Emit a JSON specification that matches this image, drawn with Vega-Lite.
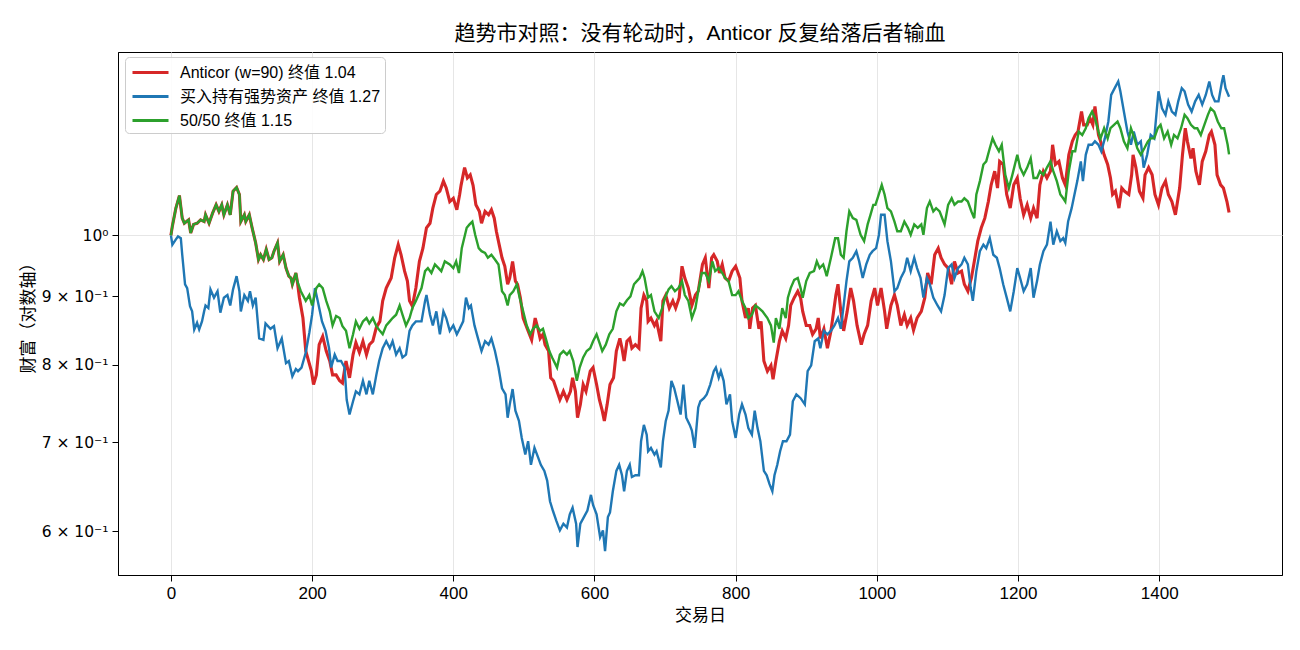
{
"$schema": "https://vega.github.io/schema/vega-lite/v6.json",
"width": 1164, "height": 523,
"autosize": {"type": "none"},
"padding": {"left": 118, "top": 52, "right": 18, "bottom": 75},
"title": {"text": "趋势市对照：没有轮动时，Anticor 反复给落后者输血", "fontSize": 21, "fontWeight": "normal", "color": "#000000", "offset": 8},
"datasets": {
"a": [{"d":0,"v":1.000},{"d":2,"v":1.016},{"d":7,"v":1.048},{"d":12,"v":1.071},{"d":16,"v":1.030},{"d":19,"v":1.021},{"d":25,"v":1.027},{"d":28,"v":1.004},{"d":32,"v":1.019},{"d":37,"v":1.021},{"d":42,"v":1.027},{"d":47,"v":1.024},{"d":49,"v":1.036},{"d":54,"v":1.021},{"d":59,"v":1.039},{"d":64,"v":1.054},{"d":68,"v":1.042},{"d":72,"v":1.054},{"d":75,"v":1.036},{"d":80,"v":1.054},{"d":84,"v":1.036},{"d":88,"v":1.079},{"d":93,"v":1.086},{"d":97,"v":1.073},{"d":99,"v":1.024},{"d":104,"v":1.036},{"d":106,"v":1.024},{"d":111,"v":1.036},{"d":115,"v":1.013},{"d":120,"v":0.987},{"d":124,"v":0.959},{"d":127,"v":0.967},{"d":131,"v":0.959},{"d":135,"v":0.976},{"d":139,"v":0.959},{"d":143,"v":0.962},{"d":146,"v":0.973},{"d":151,"v":0.987},{"d":154,"v":0.956},{"d":159,"v":0.967},{"d":163,"v":0.945},{"d":167,"v":0.932},{"d":170,"v":0.929},{"d":172,"v":0.919},{"d":177,"v":0.937},{"d":179,"v":0.924},
{"d":182,"v":0.898},{"d":187,"v":0.867},{"d":191,"v":0.819},{"d":199,"v":0.791},{"d":202,"v":0.773},{"d":206,"v":0.786},{"d":210,"v":0.828},{"d":215,"v":0.840},{"d":220,"v":0.819},{"d":225,"v":0.805},{"d":229,"v":0.786},{"d":234,"v":0.786},{"d":239,"v":0.778},{"d":243,"v":0.775},{"d":248,"v":0.805},{"d":253,"v":0.782},{"d":258,"v":0.814},{"d":262,"v":0.831},{"d":267,"v":0.817},{"d":272,"v":0.833},{"d":277,"v":0.814},{"d":281,"v":0.828},{"d":286,"v":0.833},{"d":291,"v":0.853},{"d":296,"v":0.862},{"d":300,"v":0.893},{"d":305,"v":0.913},{"d":312,"v":0.929},{"d":317,"v":0.962},{"d":322,"v":0.984},{"d":326,"v":0.967},{"d":331,"v":0.940},{"d":335,"v":0.924},{"d":338,"v":0.893},{"d":342,"v":0.885},{"d":347,"v":0.913},{"d":352,"v":0.956},{"d":357,"v":0.978},{"d":362,"v":1.013},{"d":367,"v":1.021},{"d":371,"v":1.048},{"d":376,"v":1.073},{"d":381,"v":1.079},{"d":386,"v":1.098},{"d":390,"v":1.085},{"d":395,"v":1.060},{"d":400,"v":1.066},{"d":405,"v":1.045},{"d":409,"v":1.073},{"d":411,"v":1.090},{"d":416,"v":1.124},{"d":420,"v":1.104},{"d":424,"v":1.110},{"d":428,"v":1.090},{"d":432,"v":1.054},{"d":437,"v":1.042},{"d":440,"v":1.021},{"d":445,"v":1.042},{"d":450,"v":1.036},{"d":454,"v":1.045},{"d":458,"v":1.030},{"d":461,"v":1.007},{"d":465,"v":0.984},{"d":469,"v":0.962},{"d":473,"v":0.948},{"d":477,"v":0.919},{"d":480,"v":0.929},{"d":484,"v":0.956},{"d":488,"v":0.924},{"d":491,"v":0.919},{"d":495,"v":0.898},{"d":499,"v":0.867},{"d":503,"v":0.856},{"d":506,"v":0.848},{"d":511,"v":0.835},{"d":516,"v":0.867},{"d":520,"v":0.851},{"d":523,"v":0.837},{"d":527,"v":0.843},{"d":530,"v":0.828},{"d":535,"v":0.819},{"d":538,"v":0.782},{"d":542,"v":0.778},{"d":547,"v":0.764},{"d":551,"v":0.753},{"d":556,"v":0.764},{"d":561,"v":0.753},{"d":566,"v":0.764},{"d":569,"v":0.782},{"d":573,"v":0.764},{"d":576,"v":0.730},{"d":580,"v":0.747},{"d":584,"v":0.773},{"d":588,"v":0.764},{"d":594,"v":0.791},{"d":598,"v":0.796},{"d":603,"v":0.773},{"d":607,"v":0.753},{"d":611,"v":0.739},{"d":614,"v":0.726},{"d":618,"v":0.747},{"d":622,"v":0.773},{"d":627,"v":0.782},{"d":631,"v":0.819},{"d":636,"v":0.837},{"d":639,"v":0.823},{"d":642,"v":0.805},{"d":646,"v":0.833},{"d":650,"v":0.837},{"d":653,"v":0.823},{"d":658,"v":0.828},{"d":663,"v":0.823},{"d":666,"v":0.882},{"d":670,"v":0.902},{"d":674,"v":0.893},{"d":676,"v":0.862},{"d":680,"v":0.867},{"d":685,"v":0.856},{"d":688,"v":0.862},{"d":694,"v":0.833},{"d":697,"v":0.893},{"d":701,"v":0.902},{"d":706,"v":0.882},{"d":711,"v":0.893},{"d":715,"v":0.882},{"d":720,"v":0.898},{"d":724,"v":0.948},{"d":728,"v":0.929},{"d":733,"v":0.913},{"d":738,"v":0.886},{"d":743,"v":0.902},{"d":747,"v":0.908},{"d":753,"v":0.951},{"d":757,"v":0.962},{"d":762,"v":0.913},{"d":766,"v":0.962},{"d":769,"v":0.967},{"d":774,"v":0.956},{"d":777,"v":0.937},{"d":781,"v":0.951},{"d":785,"v":0.929},{"d":790,"v":0.924},{"d":795,"v":0.940},{"d":800,"v":0.948},{"d":806,"v":0.929},{"d":809,"v":0.893},{"d":814,"v":0.867},{"d":818,"v":0.882},{"d":820,"v":0.851},{"d":824,"v":0.882},{"d":828,"v":0.886},{"d":833,"v":0.851},{"d":836,"v":0.862},{"d":840,"v":0.805},{"d":845,"v":0.791},{"d":850,"v":0.799},{"d":853,"v":0.780},{"d":857,"v":0.805},{"d":862,"v":0.833},{"d":866,"v":0.848},{"d":871,"v":0.837},{"d":875,"v":0.856},{"d":878,"v":0.886},{"d":883,"v":0.898},{"d":888,"v":0.908},{"d":892,"v":0.898},{"d":895,"v":0.877},{"d":900,"v":0.856},{"d":905,"v":0.856},{"d":909,"v":0.843},{"d":914,"v":0.851},{"d":917,"v":0.867},{"d":920,"v":0.837},{"d":925,"v":0.851},{"d":930,"v":0.823},{"d":935,"v":0.848},{"d":942,"v":0.902},{"d":945,"v":0.919},{"d":949,"v":0.877},{"d":953,"v":0.848},{"d":958,"v":0.877},{"d":963,"v":0.913},{"d":967,"v":0.893},{"d":972,"v":0.856},{"d":978,"v":0.828},{"d":982,"v":0.843},{"d":987,"v":0.856},{"d":992,"v":0.893},{"d":997,"v":0.913},{"d":1001,"v":0.886},{"d":1006,"v":0.913},{"d":1011,"v":0.877},{"d":1014,"v":0.851},{"d":1020,"v":0.886},{"d":1025,"v":0.902},{"d":1029,"v":0.886},{"d":1034,"v":0.856},{"d":1039,"v":0.872},{"d":1043,"v":0.856},{"d":1048,"v":0.867},{"d":1052,"v":0.849},{"d":1057,"v":0.867},{"d":1063,"v":0.877},{"d":1068,"v":0.898},{"d":1072,"v":0.937},{"d":1077,"v":0.919},{"d":1082,"v":0.967},{"d":1087,"v":0.978},{"d":1091,"v":0.962},{"d":1096,"v":0.951},{"d":1101,"v":0.945},{"d":1106,"v":0.919},{"d":1110,"v":0.956},{"d":1115,"v":0.937},{"d":1120,"v":0.940},{"d":1124,"v":0.919},{"d":1129,"v":0.908},{"d":1134,"v":0.929},{"d":1139,"v":0.962},{"d":1143,"v":0.990},{"d":1148,"v":1.013},{"d":1153,"v":1.030},{"d":1158,"v":1.060},{"d":1162,"v":1.091},{"d":1167,"v":1.117},{"d":1171,"v":1.085},{"d":1174,"v":1.136},{"d":1179,"v":1.130},{"d":1184,"v":1.073},{"d":1189,"v":1.048},{"d":1194,"v":1.091},{"d":1199,"v":1.104},{"d":1203,"v":1.066},{"d":1208,"v":1.036},{"d":1213,"v":1.054},{"d":1218,"v":1.030},{"d":1222,"v":1.048},{"d":1227,"v":1.030},{"d":1231,"v":1.091},{"d":1236,"v":1.117},{"d":1241,"v":1.104},{"d":1246,"v":1.117},{"d":1249,"v":1.169},{"d":1253,"v":1.130},{"d":1258,"v":1.136},{"d":1263,"v":1.104},{"d":1267,"v":1.091},{"d":1272,"v":1.149},{"d":1277,"v":1.176},{"d":1281,"v":1.189},{"d":1285,"v":1.196},{"d":1290,"v":1.238},{"d":1293,"v":1.210},{"d":1298,"v":1.210},{"d":1302,"v":1.224},{"d":1306,"v":1.210},{"d":1309,"v":1.249},{"d":1314,"v":1.189},{"d":1317,"v":1.176},{"d":1322,"v":1.149},{"d":1327,"v":1.130},{"d":1331,"v":1.104},{"d":1334,"v":1.073},{"d":1338,"v":1.079},{"d":1343,"v":1.048},{"d":1347,"v":1.085},{"d":1351,"v":1.079},{"d":1357,"v":1.073},{"d":1361,"v":1.110},{"d":1363,"v":1.149},{"d":1367,"v":1.124},{"d":1372,"v":1.079},{"d":1377,"v":1.066},{"d":1380,"v":1.110},{"d":1385,"v":1.124},{"d":1390,"v":1.110},{"d":1394,"v":1.073},{"d":1399,"v":1.054},{"d":1404,"v":1.085},{"d":1409,"v":1.098},{"d":1413,"v":1.073},{"d":1418,"v":1.060},{"d":1423,"v":1.036},{"d":1429,"v":1.085},{"d":1433,"v":1.149},{"d":1437,"v":1.203},{"d":1440,"v":1.176},{"d":1445,"v":1.142},{"d":1448,"v":1.162},{"d":1452,"v":1.117},{"d":1457,"v":1.091},{"d":1461,"v":1.136},{"d":1466,"v":1.156},{"d":1471,"v":1.189},{"d":1474,"v":1.196},{"d":1479,"v":1.169},{"d":1482,"v":1.110},{"d":1487,"v":1.091},{"d":1491,"v":1.085},{"d":1496,"v":1.060},{"d":1499,"v":1.040}],
"b": [{"d":0,"v":1.000},{"d":2,"v":0.984},{"d":7,"v":0.993},{"d":10,"v":0.998},{"d":14,"v":0.995},{"d":16,"v":0.967},{"d":20,"v":0.919},{"d":23,"v":0.913},{"d":27,"v":0.885},{"d":30,"v":0.877},{"d":33,"v":0.850},{"d":37,"v":0.860},{"d":40,"v":0.850},{"d":44,"v":0.862},{"d":47,"v":0.877},{"d":49,"v":0.886},{"d":53,"v":0.882},{"d":56,"v":0.911},{"d":61,"v":0.898},{"d":66,"v":0.908},{"d":70,"v":0.875},{"d":75,"v":0.898},{"d":80,"v":0.902},{"d":84,"v":0.886},{"d":88,"v":0.911},{"d":93,"v":0.932},{"d":97,"v":0.908},{"d":99,"v":0.877},{"d":104,"v":0.902},{"d":109,"v":0.893},{"d":112,"v":0.908},{"d":116,"v":0.886},{"d":120,"v":0.898},{"d":125,"v":0.837},{"d":131,"v":0.835},{"d":134,"v":0.859},{"d":141,"v":0.851},{"d":146,"v":0.855},{"d":151,"v":0.823},{"d":157,"v":0.837},{"d":163,"v":0.802},{"d":167,"v":0.805},{"d":172,"v":0.784},{"d":177,"v":0.794},{"d":180,"v":0.791},{"d":185,"v":0.796},{"d":191,"v":0.817},{"d":196,"v":0.845},{"d":200,"v":0.872},{"d":204,"v":0.913},{"d":208,"v":0.893},{"d":214,"v":0.862},{"d":219,"v":0.848},{"d":224,"v":0.823},{"d":227,"v":0.796},{"d":232,"v":0.814},{"d":236,"v":0.805},{"d":241,"v":0.805},{"d":246,"v":0.796},{"d":249,"v":0.753},{"d":253,"v":0.734},{"d":258,"v":0.751},{"d":262,"v":0.764},{"d":267,"v":0.760},{"d":272,"v":0.778},{"d":277,"v":0.760},{"d":281,"v":0.778},{"d":286,"v":0.760},{"d":291,"v":0.786},{"d":295,"v":0.805},{"d":300,"v":0.823},{"d":305,"v":0.833},{"d":310,"v":0.823},{"d":314,"v":0.833},{"d":319,"v":0.814},{"d":324,"v":0.823},{"d":328,"v":0.810},{"d":333,"v":0.814},{"d":338,"v":0.848},{"d":342,"v":0.856},{"d":347,"v":0.862},{"d":355,"v":0.862},{"d":360,"v":0.893},{"d":362,"v":0.902},{"d":367,"v":0.872},{"d":371,"v":0.856},{"d":376,"v":0.877},{"d":381,"v":0.843},{"d":386,"v":0.877},{"d":390,"v":0.867},{"d":395,"v":0.848},{"d":400,"v":0.856},{"d":405,"v":0.843},{"d":409,"v":0.851},{"d":414,"v":0.862},{"d":418,"v":0.898},{"d":422,"v":0.882},{"d":425,"v":0.886},{"d":430,"v":0.856},{"d":435,"v":0.837},{"d":440,"v":0.819},{"d":445,"v":0.833},{"d":450,"v":0.828},{"d":454,"v":0.837},{"d":459,"v":0.819},{"d":464,"v":0.796},{"d":469,"v":0.768},{"d":474,"v":0.760},{"d":477,"v":0.730},{"d":480,"v":0.747},{"d":484,"v":0.767},{"d":488,"v":0.739},{"d":493,"v":0.726},{"d":497,"v":0.705},{"d":502,"v":0.685},{"d":506,"v":0.701},{"d":510,"v":0.673},{"d":515,"v":0.693},{"d":520,"v":0.682},{"d":524,"v":0.673},{"d":529,"v":0.666},{"d":533,"v":0.655},{"d":537,"v":0.632},{"d":541,"v":0.622},{"d":546,"v":0.611},{"d":551,"v":0.601},{"d":556,"v":0.608},{"d":561,"v":0.604},{"d":565,"v":0.618},{"d":569,"v":0.625},{"d":574,"v":0.608},{"d":576,"v":0.584},{"d":580,"v":0.608},{"d":585,"v":0.615},{"d":590,"v":0.622},{"d":595,"v":0.639},{"d":598,"v":0.628},{"d":603,"v":0.618},{"d":608,"v":0.594},{"d":612,"v":0.601},{"d":615,"v":0.580},{"d":619,"v":0.615},{"d":622,"v":0.620},{"d":626,"v":0.643},{"d":631,"v":0.666},{"d":635,"v":0.673},{"d":639,"v":0.661},{"d":642,"v":0.643},{"d":646,"v":0.666},{"d":650,"v":0.673},{"d":653,"v":0.659},{"d":658,"v":0.661},{"d":663,"v":0.661},{"d":666,"v":0.701},{"d":670,"v":0.721},{"d":674,"v":0.709},{"d":676,"v":0.689},{"d":680,"v":0.693},{"d":685,"v":0.685},{"d":688,"v":0.689},{"d":694,"v":0.670},{"d":697,"v":0.701},{"d":701,"v":0.726},{"d":705,"v":0.739},{"d":709,"v":0.778},{"d":713,"v":0.768},{"d":717,"v":0.753},{"d":722,"v":0.734},{"d":726,"v":0.773},{"d":730,"v":0.730},{"d":735,"v":0.721},{"d":738,"v":0.714},{"d":742,"v":0.693},{"d":747,"v":0.743},{"d":750,"v":0.751},{"d":755,"v":0.755},{"d":759,"v":0.760},{"d":764,"v":0.773},{"d":769,"v":0.791},{"d":772,"v":0.796},{"d":776,"v":0.782},{"d":779,"v":0.791},{"d":783,"v":0.778},{"d":787,"v":0.747},{"d":792,"v":0.760},{"d":795,"v":0.726},{"d":800,"v":0.705},{"d":805,"v":0.734},{"d":809,"v":0.747},{"d":814,"v":0.734},{"d":818,"v":0.717},{"d":823,"v":0.709},{"d":827,"v":0.739},{"d":831,"v":0.717},{"d":835,"v":0.701},{"d":840,"v":0.666},{"d":844,"v":0.661},{"d":848,"v":0.651},{"d":852,"v":0.643},{"d":855,"v":0.661},{"d":859,"v":0.673},{"d":863,"v":0.689},{"d":867,"v":0.701},{"d":872,"v":0.701},{"d":877,"v":0.709},{"d":881,"v":0.751},{"d":886,"v":0.760},{"d":892,"v":0.755},{"d":898,"v":0.747},{"d":902,"v":0.791},{"d":907,"v":0.799},{"d":912,"v":0.833},{"d":917,"v":0.837},{"d":920,"v":0.823},{"d":925,"v":0.848},{"d":930,"v":0.843},{"d":935,"v":0.848},{"d":940,"v":0.856},{"d":945,"v":0.867},{"d":949,"v":0.851},{"d":953,"v":0.886},{"d":957,"v":0.924},{"d":961,"v":0.956},{"d":966,"v":0.962},{"d":971,"v":0.973},{"d":975,"v":0.956},{"d":980,"v":0.929},{"d":985,"v":0.951},{"d":990,"v":0.967},{"d":994,"v":0.973},{"d":999,"v":0.978},{"d":1003,"v":1.001},{"d":1006,"v":1.036},{"d":1011,"v":1.036},{"d":1015,"v":0.990},{"d":1020,"v":0.956},{"d":1025,"v":0.908},{"d":1029,"v":0.913},{"d":1034,"v":0.929},{"d":1039,"v":0.940},{"d":1043,"v":0.962},{"d":1048,"v":0.940},{"d":1053,"v":0.962},{"d":1057,"v":0.945},{"d":1062,"v":0.929},{"d":1066,"v":0.898},{"d":1071,"v":0.929},{"d":1075,"v":0.919},{"d":1080,"v":0.898},{"d":1086,"v":0.886},{"d":1091,"v":0.877},{"d":1096,"v":0.902},{"d":1101,"v":0.945},{"d":1106,"v":0.951},{"d":1110,"v":0.929},{"d":1115,"v":0.945},{"d":1120,"v":0.951},{"d":1124,"v":0.962},{"d":1129,"v":0.951},{"d":1133,"v":0.913},{"d":1136,"v":0.893},{"d":1141,"v":0.940},{"d":1146,"v":0.973},{"d":1151,"v":0.984},{"d":1155,"v":0.978},{"d":1160,"v":0.995},{"d":1165,"v":0.967},{"d":1170,"v":0.962},{"d":1174,"v":0.945},{"d":1179,"v":0.919},{"d":1184,"v":0.898},{"d":1189,"v":0.877},{"d":1194,"v":0.908},{"d":1199,"v":0.945},{"d":1203,"v":0.929},{"d":1208,"v":0.908},{"d":1213,"v":0.919},{"d":1218,"v":0.945},{"d":1222,"v":0.898},{"d":1227,"v":0.924},{"d":1231,"v":0.951},{"d":1236,"v":0.973},{"d":1241,"v":0.984},{"d":1246,"v":1.024},{"d":1250,"v":0.984},{"d":1255,"v":1.007},{"d":1260,"v":0.990},{"d":1264,"v":0.995},{"d":1267,"v":0.987},{"d":1271,"v":1.024},{"d":1276,"v":1.048},{"d":1280,"v":1.073},{"d":1284,"v":1.098},{"d":1289,"v":1.136},{"d":1292,"v":1.098},{"d":1296,"v":1.149},{"d":1300,"v":1.169},{"d":1305,"v":1.169},{"d":1309,"v":1.176},{"d":1314,"v":1.169},{"d":1318,"v":1.156},{"d":1323,"v":1.182},{"d":1328,"v":1.217},{"d":1332,"v":1.274},{"d":1337,"v":1.289},{"d":1342,"v":1.304},{"d":1345,"v":1.282},{"d":1350,"v":1.238},{"d":1355,"v":1.196},{"d":1360,"v":1.169},{"d":1364,"v":1.196},{"d":1369,"v":1.169},{"d":1374,"v":1.176},{"d":1378,"v":1.124},{"d":1383,"v":1.149},{"d":1388,"v":1.189},{"d":1393,"v":1.182},{"d":1399,"v":1.282},{"d":1404,"v":1.245},{"d":1409,"v":1.231},{"d":1413,"v":1.260},{"d":1418,"v":1.238},{"d":1423,"v":1.231},{"d":1427,"v":1.260},{"d":1432,"v":1.289},{"d":1436,"v":1.282},{"d":1441,"v":1.253},{"d":1446,"v":1.238},{"d":1451,"v":1.260},{"d":1456,"v":1.274},{"d":1461,"v":1.253},{"d":1466,"v":1.274},{"d":1471,"v":1.304},{"d":1475,"v":1.274},{"d":1479,"v":1.260},{"d":1484,"v":1.260},{"d":1489,"v":1.304},{"d":1491,"v":1.318},{"d":1494,"v":1.289},{"d":1499,"v":1.270}],
"c": [{"d":0,"v":1.000},{"d":2,"v":1.016},{"d":7,"v":1.048},{"d":12,"v":1.071},{"d":16,"v":1.030},{"d":19,"v":1.021},{"d":25,"v":1.027},{"d":28,"v":1.004},{"d":32,"v":1.019},{"d":37,"v":1.021},{"d":42,"v":1.027},{"d":47,"v":1.024},{"d":49,"v":1.036},{"d":54,"v":1.021},{"d":59,"v":1.039},{"d":64,"v":1.054},{"d":68,"v":1.042},{"d":72,"v":1.054},{"d":75,"v":1.036},{"d":80,"v":1.054},{"d":84,"v":1.036},{"d":88,"v":1.079},{"d":93,"v":1.086},{"d":97,"v":1.073},{"d":99,"v":1.024},{"d":104,"v":1.036},{"d":106,"v":1.024},{"d":111,"v":1.036},{"d":115,"v":1.013},{"d":120,"v":0.987},{"d":124,"v":0.959},{"d":127,"v":0.967},{"d":131,"v":0.959},{"d":135,"v":0.976},{"d":139,"v":0.959},{"d":143,"v":0.962},{"d":146,"v":0.973},{"d":151,"v":0.987},{"d":154,"v":0.956},{"d":159,"v":0.967},{"d":163,"v":0.945},{"d":167,"v":0.932},{"d":170,"v":0.929},{"d":172,"v":0.919},{"d":177,"v":0.937},{"d":179,"v":0.924},
{"d":184,"v":0.908},{"d":191,"v":0.893},{"d":196,"v":0.902},{"d":200,"v":0.886},{"d":206,"v":0.913},{"d":210,"v":0.919},{"d":215,"v":0.913},{"d":220,"v":0.893},{"d":225,"v":0.877},{"d":229,"v":0.856},{"d":234,"v":0.870},{"d":239,"v":0.867},{"d":243,"v":0.855},{"d":248,"v":0.848},{"d":253,"v":0.823},{"d":258,"v":0.843},{"d":262,"v":0.862},{"d":267,"v":0.851},{"d":272,"v":0.862},{"d":277,"v":0.867},{"d":281,"v":0.859},{"d":286,"v":0.867},{"d":291,"v":0.855},{"d":296,"v":0.848},{"d":300,"v":0.843},{"d":305,"v":0.856},{"d":310,"v":0.862},{"d":314,"v":0.867},{"d":319,"v":0.872},{"d":324,"v":0.886},{"d":328,"v":0.872},{"d":333,"v":0.856},{"d":338,"v":0.867},{"d":342,"v":0.882},{"d":347,"v":0.893},{"d":355,"v":0.913},{"d":360,"v":0.940},{"d":364,"v":0.945},{"d":369,"v":0.937},{"d":374,"v":0.951},{"d":379,"v":0.945},{"d":383,"v":0.940},{"d":388,"v":0.956},{"d":395,"v":0.951},{"d":400,"v":0.945},{"d":404,"v":0.956},{"d":408,"v":0.937},{"d":412,"v":0.978},{"d":419,"v":1.013},{"d":423,"v":1.019},{"d":427,"v":1.024},{"d":431,"v":1.001},{"d":436,"v":0.978},{"d":440,"v":0.973},{"d":445,"v":0.970},{"d":449,"v":0.962},{"d":454,"v":0.967},{"d":459,"v":0.959},{"d":464,"v":0.951},{"d":469,"v":0.908},{"d":473,"v":0.902},{"d":477,"v":0.886},{"d":480,"v":0.902},{"d":485,"v":0.908},{"d":490,"v":0.919},{"d":494,"v":0.898},{"d":499,"v":0.877},{"d":504,"v":0.856},{"d":509,"v":0.843},{"d":513,"v":0.851},{"d":518,"v":0.856},{"d":523,"v":0.848},{"d":527,"v":0.851},{"d":531,"v":0.837},{"d":536,"v":0.819},{"d":540,"v":0.810},{"d":547,"v":0.796},{"d":551,"v":0.814},{"d":556,"v":0.819},{"d":561,"v":0.814},{"d":565,"v":0.819},{"d":570,"v":0.805},{"d":575,"v":0.778},{"d":579,"v":0.796},{"d":584,"v":0.810},{"d":589,"v":0.819},{"d":594,"v":0.823},{"d":598,"v":0.833},{"d":603,"v":0.843},{"d":608,"v":0.828},{"d":611,"v":0.819},{"d":616,"v":0.828},{"d":621,"v":0.843},{"d":626,"v":0.851},{"d":631,"v":0.877},{"d":636,"v":0.889},{"d":641,"v":0.886},{"d":646,"v":0.894},{"d":651,"v":0.900},{"d":656,"v":0.919},{"d":660,"v":0.924},{"d":664,"v":0.929},{"d":668,"v":0.940},{"d":671,"v":0.929},{"d":676,"v":0.898},{"d":680,"v":0.902},{"d":685,"v":0.877},{"d":691,"v":0.867},{"d":696,"v":0.882},{"d":700,"v":0.898},{"d":705,"v":0.911},{"d":709,"v":0.916},{"d":714,"v":0.908},{"d":719,"v":0.913},{"d":724,"v":0.924},{"d":728,"v":0.902},{"d":733,"v":0.893},{"d":738,"v":0.867},{"d":743,"v":0.882},{"d":747,"v":0.908},{"d":752,"v":0.937},{"d":757,"v":0.937},{"d":762,"v":0.924},{"d":767,"v":0.956},{"d":771,"v":0.940},{"d":776,"v":0.945},{"d":781,"v":0.937},{"d":785,"v":0.929},{"d":790,"v":0.924},{"d":795,"v":0.902},{"d":800,"v":0.902},{"d":804,"v":0.908},{"d":809,"v":0.893},{"d":814,"v":0.882},{"d":818,"v":0.867},{"d":823,"v":0.872},{"d":828,"v":0.886},{"d":833,"v":0.882},{"d":838,"v":0.877},{"d":845,"v":0.867},{"d":850,"v":0.856},{"d":854,"v":0.831},{"d":857,"v":0.867},{"d":862,"v":0.851},{"d":866,"v":0.882},{"d":871,"v":0.867},{"d":874,"v":0.898},{"d":878,"v":0.913},{"d":883,"v":0.926},{"d":888,"v":0.929},{"d":892,"v":0.913},{"d":895,"v":0.898},{"d":900,"v":0.924},{"d":905,"v":0.937},{"d":911,"v":0.940},{"d":915,"v":0.956},{"d":919,"v":0.945},{"d":924,"v":0.951},{"d":927,"v":0.940},{"d":929,"v":0.932},{"d":935,"v":0.962},{"d":941,"v":0.995},{"d":945,"v":0.995},{"d":949,"v":0.967},{"d":953,"v":0.962},{"d":957,"v":1.007},{"d":961,"v":1.042},{"d":966,"v":1.030},{"d":971,"v":1.027},{"d":977,"v":1.001},{"d":982,"v":0.990},{"d":987,"v":1.019},{"d":991,"v":1.036},{"d":995,"v":1.054},{"d":998,"v":1.054},{"d":1001,"v":1.066},{"d":1007,"v":1.091},{"d":1011,"v":1.073},{"d":1015,"v":1.048},{"d":1020,"v":1.042},{"d":1025,"v":1.024},{"d":1029,"v":1.007},{"d":1034,"v":1.007},{"d":1039,"v":1.024},{"d":1044,"v":1.013},{"d":1048,"v":1.001},{"d":1053,"v":1.019},{"d":1058,"v":1.013},{"d":1063,"v":1.019},{"d":1066,"v":1.001},{"d":1071,"v":1.048},{"d":1075,"v":1.060},{"d":1080,"v":1.042},{"d":1084,"v":1.048},{"d":1089,"v":1.042},{"d":1096,"v":1.019},{"d":1101,"v":1.054},{"d":1106,"v":1.066},{"d":1110,"v":1.054},{"d":1115,"v":1.060},{"d":1120,"v":1.060},{"d":1124,"v":1.066},{"d":1129,"v":1.060},{"d":1134,"v":1.042},{"d":1138,"v":1.030},{"d":1141,"v":1.073},{"d":1146,"v":1.098},{"d":1151,"v":1.130},{"d":1155,"v":1.136},{"d":1160,"v":1.162},{"d":1164,"v":1.182},{"d":1168,"v":1.169},{"d":1173,"v":1.156},{"d":1177,"v":1.169},{"d":1182,"v":1.110},{"d":1187,"v":1.085},{"d":1192,"v":1.110},{"d":1199,"v":1.149},{"d":1203,"v":1.124},{"d":1208,"v":1.110},{"d":1213,"v":1.124},{"d":1218,"v":1.142},{"d":1222,"v":1.104},{"d":1227,"v":1.104},{"d":1231,"v":1.117},{"d":1236,"v":1.110},{"d":1241,"v":1.124},{"d":1246,"v":1.136},{"d":1250,"v":1.117},{"d":1255,"v":1.098},{"d":1260,"v":1.073},{"d":1264,"v":1.066},{"d":1267,"v":1.060},{"d":1272,"v":1.117},{"d":1277,"v":1.156},{"d":1281,"v":1.156},{"d":1286,"v":1.196},{"d":1291,"v":1.189},{"d":1296,"v":1.203},{"d":1300,"v":1.224},{"d":1305,"v":1.238},{"d":1309,"v":1.224},{"d":1314,"v":1.196},{"d":1317,"v":1.182},{"d":1322,"v":1.203},{"d":1327,"v":1.182},{"d":1331,"v":1.203},{"d":1336,"v":1.210},{"d":1341,"v":1.217},{"d":1345,"v":1.203},{"d":1350,"v":1.176},{"d":1355,"v":1.162},{"d":1360,"v":1.203},{"d":1365,"v":1.182},{"d":1369,"v":1.162},{"d":1374,"v":1.149},{"d":1379,"v":1.162},{"d":1384,"v":1.176},{"d":1388,"v":1.182},{"d":1393,"v":1.182},{"d":1398,"v":1.203},{"d":1402,"v":1.210},{"d":1407,"v":1.182},{"d":1412,"v":1.196},{"d":1417,"v":1.169},{"d":1421,"v":1.189},{"d":1426,"v":1.182},{"d":1431,"v":1.203},{"d":1436,"v":1.231},{"d":1440,"v":1.224},{"d":1445,"v":1.210},{"d":1450,"v":1.203},{"d":1454,"v":1.203},{"d":1459,"v":1.189},{"d":1464,"v":1.210},{"d":1469,"v":1.231},{"d":1473,"v":1.245},{"d":1478,"v":1.238},{"d":1483,"v":1.217},{"d":1488,"v":1.203},{"d":1492,"v":1.203},{"d":1497,"v":1.169},{"d":1499,"v":1.150}]
},
"encoding": {
  "x": {"field": "d", "type": "quantitative",
        "scale": {"domain": [-75, 1574], "nice": false, "zero": false},
        "axis": {"values": [0,200,400,600,800,1000,1200,1400], "format": "d", "title": "交易日",
                 "grid": true, "gridColor": "#e6e6e6", "tickSize": 6, "labelPadding": 4, "titlePadding": 6}},
  "y": {"field": "v", "type": "quantitative",
        "scale": {"type": "log", "domain": [0.5565, 1.372], "nice": false, "zero": false},
        "axis": {"values": [0.6,0.7,0.8,0.9,1], "title": "财富（对数轴）",
                 "labelExpr": "datum.value == 1 ? '10⁰' : round(datum.value*10) + ' × 10⁻¹'",
                 "labelFont": "DejaVu Sans", "labelFontSize": 15.5,
                 "grid": true,
                 "gridColor": {"condition": {"test": "datum.value == 1", "value": "#e6e6e6"}, "value": "rgba(0,0,0,0)"},
                 "tickSize": 6, "labelPadding": 4, "titlePadding": 4}}
},
"layer": [
  {"data": {"name": "a"}, "mark": {"type": "line", "strokeWidth": 3.1},
   "encoding": {"color": {"datum": "Anticor (w=90) 终值 1.04", "type": "nominal",
      "scale": {"domain": ["Anticor (w=90) 终值 1.04", "买入持有强势资产 终值 1.27", "50/50 终值 1.15"], "range": ["#d62728", "#1f77b4", "#2ca02c"]},
      "legend": {"orient": "none", "legendX": 7, "legendY": 5, "title": null, "symbolType": "M-0.8,0L2.8,0", "symbolSize": 400,
                 "symbolStrokeWidth": 3, "labelFontSize": 16, "labelLimit": 400, "strokeColor": "#cccccc",
                 "fillColor": "rgba(255,255,255,0.85)", "cornerRadius": 4, "padding": 4, "rowPadding": 4, "labelOffset": 28}}}},
  {"data": {"name": "b"}, "mark": {"type": "line", "strokeWidth": 2.4},
   "encoding": {"color": {"datum": "买入持有强势资产 终值 1.27", "type": "nominal"}}},
  {"data": {"name": "c"}, "mark": {"type": "line", "strokeWidth": 2.4},
   "encoding": {"color": {"datum": "50/50 终值 1.15", "type": "nominal"}}}
],
"config": {
  "font": "Liberation Sans, Noto Sans CJK SC",
  "view": {"stroke": "#000000", "strokeWidth": 1},
  "axis": {"domainColor": "#000000", "tickColor": "#000000", "labelColor": "#000000", "titleColor": "#000000",
           "labelFontSize": 17, "titleFontSize": 17, "titleFontWeight": "normal"}
}
}
